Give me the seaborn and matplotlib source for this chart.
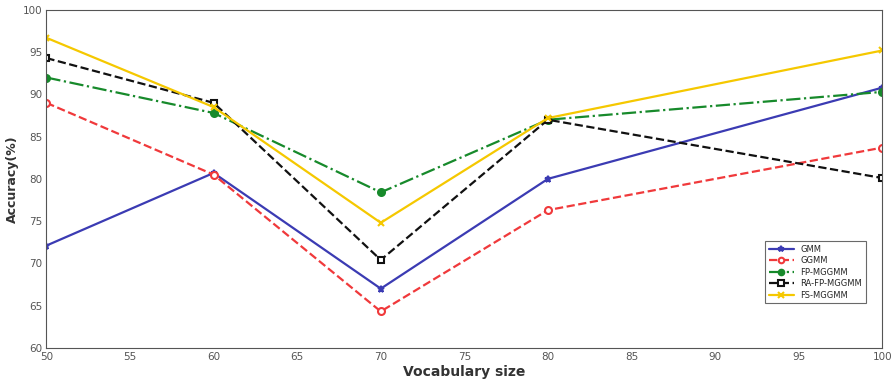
import matplotlib.pyplot as plt
import seaborn as sns

vocab = [50, 60, 70, 80, 100]
gmm = [72.1, 80.7, 67.0, 80.0, 90.8]
ggmm = [89.0, 80.5, 64.3, 76.3, 83.7]
fp_mggmm = [92.0, 87.8, 78.4, 87.0, 90.3]
ra_fp_mggmm = [94.3, 89.0, 70.4, 87.0, 80.1]
fs_mggmm = [96.7, 88.5, 74.8, 87.2, 95.2]

series = [
    ("GMM", gmm, "#3b3bb3", "-", "*", "#3b3bb3"),
    ("GGMM", ggmm, "#f0393b", "--", "o", "white"),
    ("FP-MGGMM", fp_mggmm, "#178a2b", "-.", "o", "#178a2b"),
    ("RA-FP-MGGMM", ra_fp_mggmm, "#111111", "--", "s", "white"),
    ("FS-MGGMM", fs_mggmm, "#f5c800", "-", "x", "#f5c800"),
]

sns.set_style("white")
fig, ax = plt.subplots(figsize=(8.93, 3.83), dpi=100)
for name, vals, col, ls, mk, fc in series:
    sns.lineplot(x=vocab, y=vals, ax=ax, color=col, linestyle=ls, marker=mk,
                 markerfacecolor=fc, markeredgecolor=col, markersize=5,
                 markeredgewidth=1.5, linewidth=1.6, label=name)

ax.set_xlim(50, 100)
ax.set_ylim(60, 100)
ax.set_xticks(range(50, 101, 5))
ax.set_yticks(range(60, 101, 5))
ax.tick_params(direction="in", labelsize=7.5, colors="#555555", length=4, pad=3)
for s in ax.spines.values():
    s.set_color("#555555")
    s.set_linewidth(0.8)
ax.set_xlabel("Vocabulary size", fontsize=10, fontweight="bold", color="#333333", labelpad=2)
ax.set_ylabel("Accuracy(%)", fontsize=9, fontweight="bold", color="#333333", labelpad=3)
leg = ax.legend(loc="lower right", bbox_to_anchor=(0.985, 0.12), fontsize=6,
                frameon=True, fancybox=False, edgecolor="#444444",
                handlelength=3, labelspacing=0.3, borderpad=0.4, markerscale=0.8)
leg.get_frame().set_linewidth(0.8)

plt.subplots_adjust(left=0.052, right=0.988, top=0.974, bottom=0.092)
plt.savefig("out.png")
plt.close()
